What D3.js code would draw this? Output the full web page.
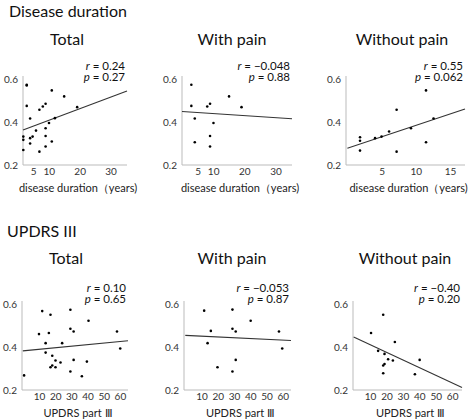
<!DOCTYPE html>
<html><head><meta charset="utf-8">
<script src="https://cdn.jsdelivr.net/npm/d3@7"></script>
<style>body{margin:0;background:#fff}text{font-family:Lato,"Open Sans",sans-serif}</style>
</head><body><svg id="c" width="474" height="419"></svg>
<script>
const sectionTitles = ["Disease duration", "UPDRS III"];
const panelTitles = ["Total", "With pain", "Without pain"];
const xLabels = ["disease duration（years)", "UPDRS part Ⅲ"];
const yTicks = [0.2, 0.4, 0.6];
const xTicksDur = [[5,10,20,30],[5,10,20,30],[5,10,15]];
const xTicksUp = [10,20,30,40,50,60];
const stats = [["r = 0.24","p = 0.27"],["r = −0.048","p = 0.88"],["r = 0.55","p = 0.062"],
               ["r = 0.10","p = 0.65"],["r = −0.053","p = 0.87"],["r = −0.40","p = 0.20"]];
const durTotal = [[2.9,0.573],[2.9,0.57],[2.9,0.475],[4.0,0.416],[1.8,0.332],[1.8,0.317],[1.8,0.27],[4.0,0.325],[4.0,0.30],[4.8,0.332],[5.9,0.36],[7.0,0.457],[7.0,0.262],[8.1,0.472],[9.0,0.485],[9.0,0.371],[9.0,0.335],[9.0,0.286],[10.1,0.395],[11.0,0.547],[11.0,0.309],[12.0,0.418],[15.0,0.519],[19.2,0.469]];
const durPain = [[3.0,0.573],[3.0,0.475],[4.1,0.416],[4.1,0.306],[8.1,0.472],[9.0,0.485],[9.0,0.335],[9.0,0.286],[10.1,0.395],[15.1,0.519],[19.1,0.469]];
const durNoPain = [[1.85,0.329],[1.85,0.313],[1.85,0.267],[4.05,0.325],[5.0,0.332],[6.1,0.356],[7.2,0.457],[7.2,0.262],[9.3,0.371],[11.5,0.547],[11.5,0.306],[12.6,0.416]];
const upTotal = [[0.8,0.268],[10,0.46],[12,0.567],[14.1,0.418],[14.1,0.374],[16.1,0.465],[17.1,0.55],[18.2,0.359],[17.1,0.306],[18.2,0.314],[20.2,0.337],[20.2,0.306],[23.3,0.328],[24.3,0.418],[29.4,0.573],[29.4,0.485],[29.4,0.286],[31.4,0.472],[31.4,0.34],[36.5,0.264],[39.6,0.332],[40.6,0.522],[58.2,0.472],[60.2,0.393]];
const upPain = [[11.6,0.569],[15.7,0.475],[13.7,0.418],[19.8,0.306],[29,0.574],[29,0.485],[29,0.286],[31,0.472],[31,0.34],[40.2,0.522],[57.6,0.472],[59.6,0.393]];
const upNoPain = [[10.6,0.465],[18,0.55],[14.9,0.382],[18.8,0.368],[21,0.343],[18.8,0.321],[18,0.314],[18,0.278],[23.9,0.337],[25.1,0.423],[37.3,0.273],[40.2,0.34]];
const fits = [[1.7,0.363,35.3,0.544],[0,0.449,35.3,0.415],[0,0.278,17.2,0.46],
              [0,0.382,65,0.429],[0,0.454,65,0.43],[0,0.446,66,0.212]];
const xDomains = [[1.7,35.3],[0,35.3],[-0.2,17.2],[-0.5,65],[-0.8,65],[-0.4,66]];

const pts = [durTotal,durPain,durNoPain,upTotal,upPain,upNoPain];
const svg = d3.select("#c");
const layout = [
 {x0:23,x1:127,yTop:79,yBot:165,title:[67,45],lab:192},
 {x0:182,x1:292,yTop:79,yBot:165,title:[232,45],lab:192},
 {x0:346,x1:465,yTop:79,yBot:165,title:[402,45],lab:192},
 {x0:22,x1:128,yTop:304,yBot:390,title:[66,264],lab:417},
 {x0:184,x1:291,yTop:304,yBot:390,title:[232,264],lab:417},
 {x0:353,x1:462,yTop:304,yBot:390,title:[405,264],lab:417}];
svg.append("text").attr("x",9).attr("y",17).attr("font-size",16).attr("fill","#111").text(sectionTitles[0]);
svg.append("text").attr("x",7).attr("y",237).attr("font-size",16).attr("fill","#111").text(sectionTitles[1]);
layout.forEach((L,i)=>{
  const x = d3.scaleLinear().domain(xDomains[i]).range([L.x0,L.x1]);
  const y = d3.scaleLinear().domain([0.2,0.6]).range([L.yBot,L.yTop]);
  const g = svg.append("g");
  g.append("text").attr("x",L.title[0]).attr("y",L.title[1]).attr("text-anchor","middle").attr("font-size",16).attr("fill","#111").text(panelTitles[i%3]);
  const ya = g.append("g").attr("transform",`translate(${L.x0},0)`).call(d3.axisLeft(y).tickValues(yTicks).tickSize(0).tickPadding(5).tickFormat(d3.format(".1f")));
  const xt = i<3 ? xTicksDur[i] : xTicksUp;
  const xa = g.append("g").attr("transform",`translate(0,${L.yBot})`).call(d3.axisBottom(x).tickValues(xt).tickSize(0).tickPadding(3));
  [ya,xa].forEach(a=>{a.select(".domain").attr("stroke","#bbb");a.selectAll("text").attr("font-size",10).attr("fill","#333").attr("font-family","Lato,sans-serif");});
  ya.select(".domain").attr("d",`M0,${L.yBot}V${L.yTop-3}`);
  xa.select(".domain").attr("d",`M${L.x0},0H${L.x1}`);
  g.append("text").attr("x",(L.x0+L.x1)/2+3).attr("y",L.lab).attr("text-anchor","middle").attr("font-size",11).attr("fill","#222").text(xLabels[i<3?0:1]);
  const f = fits[i];
  g.append("line").attr("x1",x(f[0])).attr("y1",y(f[1])).attr("x2",x(f[2])).attr("y2",y(f[3])).attr("stroke","#333").attr("stroke-width",1.1);
  g.selectAll("circle").data(pts[i]).join("circle").attr("cx",d=>x(d[0])).attr("cy",d=>y(d[1])).attr("r",1.3).attr("fill","#000");
  stats[i].forEach((s,j)=>{
    const t = g.append("text").attr("x",L.x1-2).attr("y",(i<3?70:292)+j*11).attr("text-anchor","end").attr("font-size",11.5).attr("fill","#111");
    const parts = s.split(" = ");
    t.append("tspan").attr("font-style","italic").text(parts[0]);
    t.append("tspan").text(" = "+parts[1]);
  });
});
</script></body></html>
